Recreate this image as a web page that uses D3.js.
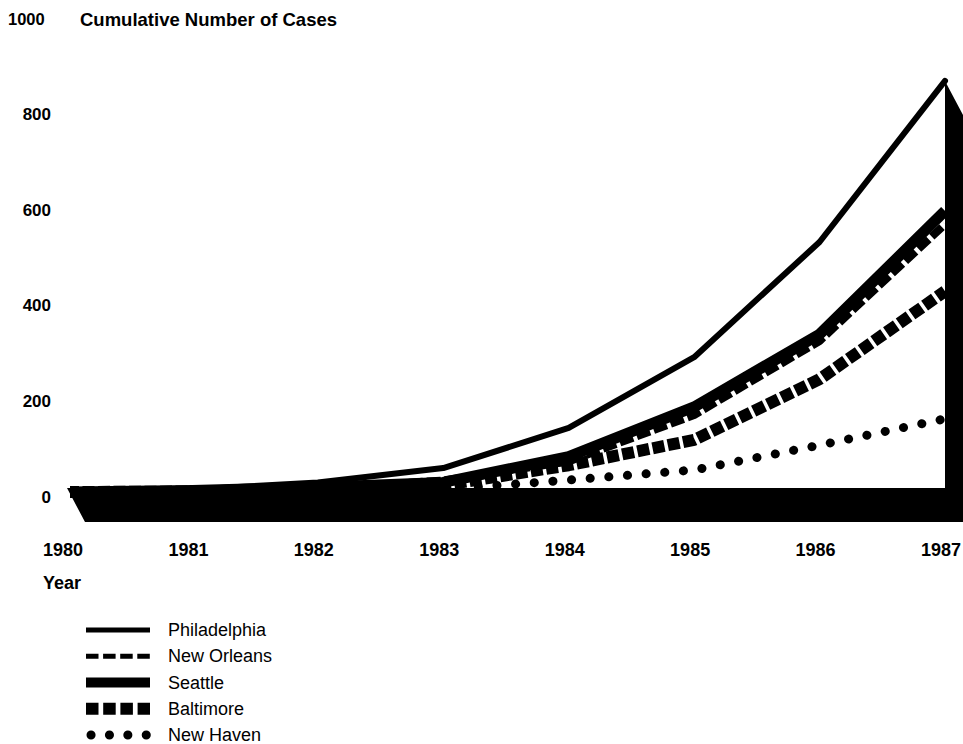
<!DOCTYPE html>
<html>
<head>
<meta charset="utf-8">
<script src="https://cdn.jsdelivr.net/npm/d3@7/dist/d3.min.js"></script>
<style>
  html, body { margin: 0; padding: 0; background: #fff; }
  svg { display: block; }
  text { font-family: "Liberation Sans", Arial, Helvetica, sans-serif; fill: #000; }
</style>
</head>
<body>
<svg id="chart" width="963" height="744"></svg>
<script>
// ---- data ----
const years = [1980, 1981, 1982, 1983, 1984, 1985, 1986, 1987];
const philadelphia = [0, 5, 20, 50, 134, 282, 523, 860];
const newOrleans   = [0, 2, 8, 24, 64, 161, 316, 560];
const seattle      = [0, 3, 10, 20, 74, 178, 330, 588];
const baltimore    = [0, 1, 3, 14, 56, 109, 236, 420];
const newHaven     = [0, 0, 0, 5, 25, 46, 98, 153];
const yTicks = [0, 200, 400, 600, 800, 1000];
const seriesNames = ["Philadelphia", "New Orleans", "Seattle", "Baltimore", "New Haven"];
const yTitle = "Cumulative Number of Cases";
const xTitle = "Year";

// ---- layout ----
const svg = d3.select("#chart");
const x = d3.scaleLinear().domain([1980, 1987]).range([67, 945]);
const y = d3.scaleLinear().domain([0, 1000]).range([492, 14]);
const depthX = 18, depthY = 34;

const styles = {
  "Philadelphia": { w: 6, dash: null, cap: "round" },
  "New Orleans":  { w: 8, dash: "14 4", cap: "butt" },
  "Seattle":      { w: 11, dash: null, cap: "butt" },
  "Baltimore":    { w: 12, dash: "12 3.5", cap: "butt" },
  "New Haven":    { w: 9, dash: "0.1 18.6", cap: "round" }
};
const seriesData = {
  "Philadelphia": philadelphia,
  "New Orleans": newOrleans,
  "Seattle": seattle,
  "Baltimore": baltimore,
  "New Haven": newHaven
};

// clip lines so nothing sticks out left of the slanted floor
svg.append("defs").append("clipPath").attr("id", "plotClip")
  .append("rect").attr("x", x(1980) + 3).attr("y", 0).attr("width", 963).attr("height", 744);

// ---- lines ----
const line = d3.line().x((d, i) => x(years[i])).y(d => y(d)).curve(d3.curveLinear);
const drawOrder = ["New Haven", "Baltimore", "New Orleans", "Seattle", "Philadelphia"];
const linesG = svg.append("g").attr("clip-path", "url(#plotClip)");
drawOrder.forEach(name => {
  const s = styles[name];
  linesG.append("path")
    .datum(seriesData[name])
    .attr("d", line)
    .attr("fill", "none")
    .attr("stroke", "#000")
    .attr("stroke-width", s.w)
    .attr("stroke-linecap", s.cap)
    .attr("stroke-linejoin", "round")
    .attr("stroke-dasharray", s.dash);
});

// ---- 3D base (floor + right wall) ----
const x0 = x(years[0]), x1 = x(years[years.length - 1]);
const floorTop = y(0) - 4;
const peakY = y(d3.max(philadelphia));
const basePts = [
  [x0, floorTop], [x1, floorTop], [x1, peakY],
  [x1 + depthX, peakY + depthY], [x1 + depthX, floorTop + depthY],
  [x0 + depthX, floorTop + depthY]
];
svg.append("polygon")
  .attr("points", basePts.map(p => p.join(",")).join(" "))
  .attr("fill", "#000");

// ---- y tick labels ----
yTicks.forEach(t => {
  if (t === 1000) {
    svg.append("text").attr("x", 8).attr("y", y(t) + 5)
      .attr("dominant-baseline", "central")
      .attr("font-size", 16.5).attr("font-weight", "bold").text(t);
  } else {
    svg.append("text").attr("x", 51).attr("y", y(t) + 5)
      .attr("dominant-baseline", "central").attr("text-anchor", "end")
      .attr("font-size", 17).attr("font-weight", "bold").text(t);
  }
});
svg.append("text").attr("x", 80).attr("y", y(1000) + 5)
  .attr("dominant-baseline", "central")
  .attr("font-size", 18.5).attr("font-weight", "bold").text(yTitle);

// ---- x tick labels ----
years.forEach(yr => {
  svg.append("text").attr("x", x(yr) - 4).attr("y", 550)
    .attr("dominant-baseline", "central").attr("text-anchor", "middle")
    .attr("font-size", 18).attr("font-weight", "bold").text(yr);
});
svg.append("text").attr("x", 43).attr("y", 583)
  .attr("dominant-baseline", "central")
  .attr("font-size", 18).attr("font-weight", "bold").text(xTitle);

// ---- legend ----
const legY = d3.scalePoint().domain(seriesNames).range([630, 735]);
const lx0 = 86, lx1 = 150;
seriesNames.forEach(name => {
  const cy = legY(name);
  const g = svg.append("g");
  if (name === "Philadelphia") {
    g.append("line").attr("x1", lx0).attr("x2", lx1).attr("y1", cy).attr("y2", cy)
      .attr("stroke", "#000").attr("stroke-width", 5);
  } else if (name === "New Orleans") {
    g.append("line").attr("x1", lx0).attr("x2", lx1).attr("y1", cy).attr("y2", cy)
      .attr("stroke", "#000").attr("stroke-width", 5).attr("stroke-dasharray", "12.5 4.6");
  } else if (name === "Seattle") {
    g.append("line").attr("x1", lx0).attr("x2", lx1).attr("y1", cy).attr("y2", cy)
      .attr("stroke", "#000").attr("stroke-width", 10);
  } else if (name === "Baltimore") {
    g.append("line").attr("x1", lx0).attr("x2", lx1).attr("y1", cy).attr("y2", cy)
      .attr("stroke", "#000").attr("stroke-width", 12).attr("stroke-dasharray", "12.5 4.7");
  } else {
    g.append("line").attr("x1", lx0 + 5).attr("x2", lx1).attr("y1", cy).attr("y2", cy)
      .attr("stroke", "#000").attr("stroke-width", 9).attr("stroke-linecap", "round")
      .attr("stroke-dasharray", "0.1 18.3");
  }
  svg.append("text").attr("x", 168).attr("y", cy)
    .attr("dominant-baseline", "central")
    .attr("font-size", 18).text(name);
});
</script>
</body>
</html>
